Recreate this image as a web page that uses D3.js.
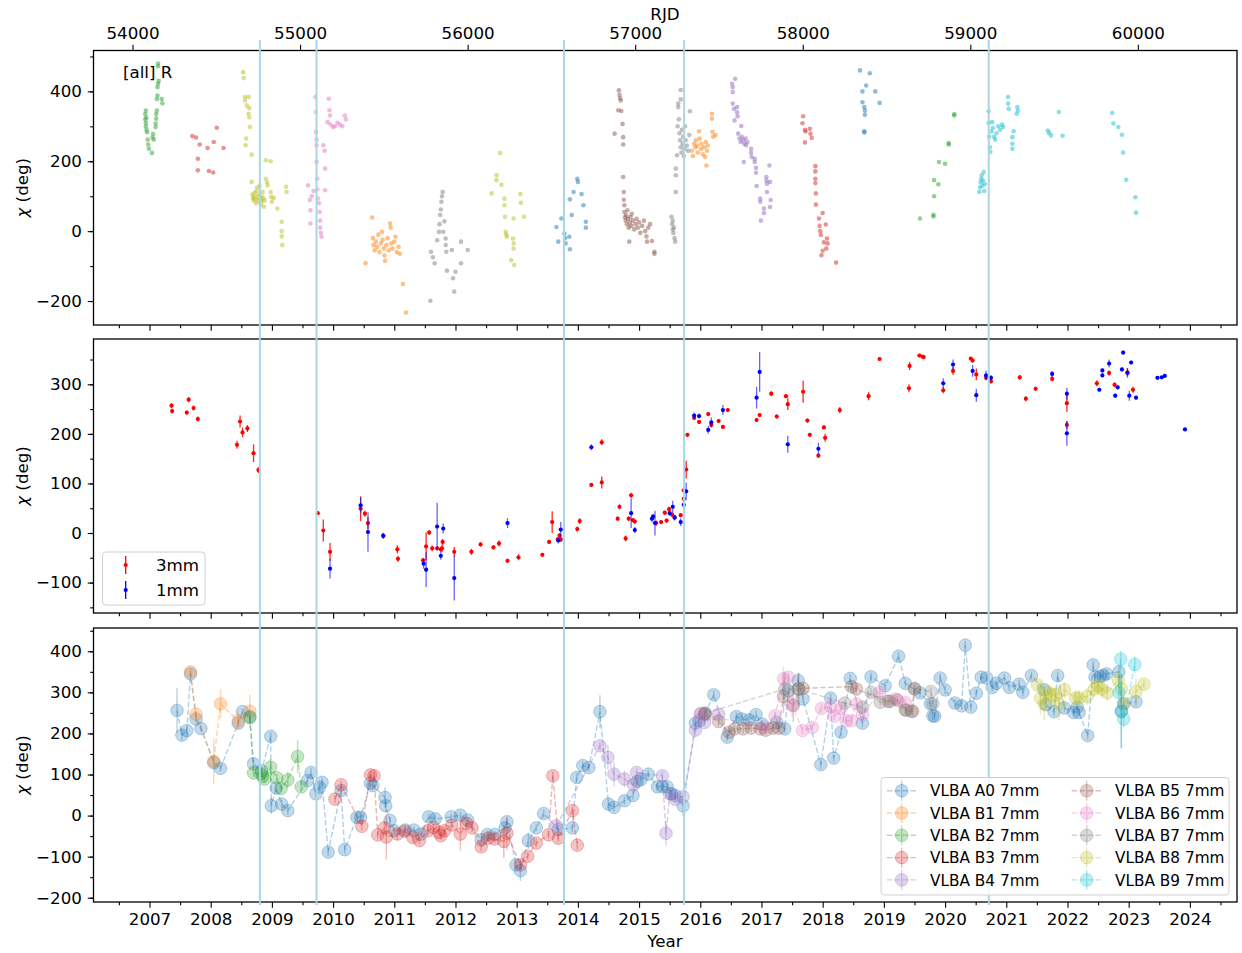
<!DOCTYPE html>
<html>
<head>
<meta charset="utf-8">
<script src="https://cdn.jsdelivr.net/npm/d3@7"></script>
<style>
  body { margin: 0; background: #fff; }
  text { font-family: "DejaVu Sans", sans-serif; }
</style>
</head>
<body>
<svg id="chart" width="1242" height="953"></svg>
<script>
// ---- data (decimal year, chi in deg[, error]) ----
const yearTicks = d3.range(2007, 2025);
const rjdTicks = d3.range(54000, 60001, 1000);
const markerRjd = [54760, 55098, 56575, 57292, 59110];

// top panel: [all] R, one array per observing season
const rGreen07 = [[2006.93,335],[2006.93,320],[2006.94,345],[2006.94,310],[2006.94,300],[2006.95,290],[2006.95,325],[2006.96,283],[2006.97,262],[2006.98,248],[2006.99,236],[2007.04,224],[2007.05,268],[2007.06,278],[2007.07,262],[2007.1,298],[2007.1,308],[2007.11,322],[2007.11,335],[2007.12,345],[2007.12,378],[2007.13,388],[2007.13,412],[2007.14,422],[2007.15,430],[2007.14,472],[2007.14,480],[2007.2,378],[2007.21,366]];
const rRed08 = [[2007.70,272],[2007.76,268],[2007.79,207],[2007.79,174],[2007.82,248],[2007.95,238],[2007.97,172],[2008.04,168],[2008.05,255],[2008.10,296],[2008.21,238]];
const rOlive09 = [[2008.53,455],[2008.54,438],[2008.56,384],[2008.56,374],[2008.62,384],[2008.59,360],[2008.63,352],[2008.62,336],[2008.63,326],[2008.64,298],[2008.58,265],[2008.57,246],[2008.67,219],[2008.67,141],[2008.68,105],[2008.69,95],[2008.70,88],[2008.71,100],[2008.72,110],[2008.73,92],[2008.74,80],[2008.75,115],[2008.76,125],[2008.77,98],[2008.78,86],[2008.79,105],[2008.80,130],[2008.81,90],[2008.82,75],[2008.83,100],[2008.84,85],[2008.85,112],[2008.86,95],[2008.87,70],[2008.88,88],[2008.90,203],[2008.90,150],[2008.92,140],[2008.93,131],[2008.98,200],[2008.98,112],[2008.99,98],[2009.0,84],[2009.03,95],[2009.09,65],[2009.16,27],[2009.16,0],[2009.16,-15],[2009.17,-40],[2009.23,127],[2009.24,112]];
const rPink10 = [[2009.59,131],[2009.62,89],[2009.63,60],[2009.63,22],[2009.65,100],[2009.68,115],[2009.71,384],[2009.72,341],[2009.72,284],[2009.73,262],[2009.73,246],[2009.73,198],[2009.74,150],[2009.74,120],[2009.75,93],[2009.77,80],[2009.78,55],[2009.79,30],[2009.79,10],[2009.80,-5],[2009.81,-16],[2009.84,246],[2009.86,230],[2009.87,179],[2009.87,117],[2009.93,379],[2009.94,346],[2009.95,331],[2009.91,312],[2009.96,305],[2010.0,298],[2010.03,300],[2010.07,310],[2010.11,305],[2010.15,300],[2010.19,331],[2010.21,320]];
const rOrange11 = [[2010.53,-92],[2010.64,39],[2010.65,-20],[2010.66,-40],[2010.68,-55],[2010.7,-30],[2010.72,-45],[2010.74,-10],[2010.76,-60],[2010.78,-35],[2010.8,-2],[2010.81,-25],[2010.83,-50],[2010.84,-70],[2010.85,-85],[2010.87,-40],[2010.89,-20],[2010.91,-55],[2010.93,22],[2010.94,10],[2010.95,-35],[2010.97,-50],[2011.0,-30],[2011.02,-16],[2011.04,-60],[2011.07,-45],[2011.09,-65],[2011.14,-151],[2011.19,-233]];
const rGray12 = [[2011.59,-199],[2011.60,-59],[2011.63,-75],[2011.66,-92],[2011.70,-26],[2011.73,-2],[2011.74,20],[2011.75,46],[2011.76,62],[2011.77,84],[2011.78,100],[2011.79,112],[2011.8,-2],[2011.82,28],[2011.84,-21],[2011.84,-40],[2011.85,-59],[2011.86,-113],[2011.94,-54],[2011.96,-135],[2011.98,-173],[2012.0,-116],[2012.09,-30],[2012.09,-92],[2012.2,-54]];
const rOlive13 = [[2012.59,108],[2012.67,160],[2012.67,146],[2012.73,224],[2012.75,133],[2012.80,93],[2012.80,74],[2012.81,41],[2012.82,-2],[2012.83,-10],[2012.84,-16],[2012.91,-83],[2012.94,-21],[2012.95,-35],[2012.95,-50],[2012.96,-97],[2012.95,36],[2013.06,106],[2013.07,81],[2013.12,41]];
const rBlue14 = [[2013.65,12],[2013.68,-30],[2013.73,36],[2013.78,-7],[2013.79,-20],[2013.80,-35],[2013.86,-16],[2013.87,-52],[2013.87,91],[2013.9,46],[2013.93,112],[2013.99,150],[2014.0,141],[2014.06,106],[2014.09,74],[2014.13,27],[2014.13,10]];
const rBrown15 = [[2014.60,279],[2014.66,346],[2014.67,403],[2014.68,390],[2014.69,380],[2014.70,374],[2014.71,344],[2014.73,307],[2014.74,269],[2014.74,248],[2014.74,155],[2014.75,112],[2014.75,90],[2014.76,74],[2014.76,55],[2014.77,40],[2014.78,30],[2014.79,45],[2014.8,20],[2014.81,60],[2014.82,35],[2014.83,10],[2014.84,-30],[2014.85,25],[2014.86,40],[2014.87,15],[2014.88,50],[2014.9,30],[2014.92,5],[2014.94,20],[2014.96,35],[2014.98,10],[2015.0,25],[2015.02,-5],[2015.05,15],[2015.08,30],[2015.1,0],[2015.12,-15],[2015.13,-30],[2015.15,10],[2015.18,20],[2015.21,-28],[2015.25,-59],[2015.25,-65]];
const rGray16 = [[2015.53,41],[2015.54,20],[2015.55,5],[2015.55,30],[2015.56,-5],[2015.57,10],[2015.58,-20],[2015.59,-30],[2015.6,112],[2015.6,160],[2015.6,179],[2015.62,217],[2015.64,355],[2015.64,365],[2015.68,404],[2015.68,377],[2015.63,300],[2015.65,320],[2015.66,280],[2015.67,260],[2015.68,240],[2015.69,225],[2015.7,290],[2015.71,250],[2015.72,270],[2015.73,215],[2015.74,235],[2015.75,300],[2015.76,260],[2015.78,245],[2015.8,230],[2015.82,275],[2015.83,343]];
const rOrange16 = [[2015.86,230],[2015.88,215],[2015.9,250],[2015.92,240],[2015.93,260],[2015.95,245],[2015.96,225],[2015.98,286],[2015.99,265],[2016.01,235],[2016.02,250],[2016.04,220],[2016.06,240],[2016.08,212],[2016.09,255],[2016.1,188],[2016.11,230],[2016.12,245],[2016.19,336],[2016.19,322],[2016.2,284],[2016.21,270],[2016.25,275]];
const rPurple17 = [[2016.52,422],[2016.53,412],[2016.57,436],[2016.53,398],[2016.53,365],[2016.55,350],[2016.6,355],[2016.6,340],[2016.61,329],[2016.56,317],[2016.67,301],[2016.62,279],[2016.64,265],[2016.66,255],[2016.68,270],[2016.7,260],[2016.72,250],[2016.74,265],[2016.75,246],[2016.77,255],[2016.71,198],[2016.83,236],[2016.83,224],[2016.84,212],[2016.89,207],[2016.89,198],[2016.91,181],[2016.91,167],[2016.92,129],[2016.98,93],[2016.98,84],[2016.99,30],[2017.04,65],[2017.04,52],[2017.08,155],[2017.08,145],[2017.09,136],[2017.09,112],[2017.13,188],[2017.14,141],[2017.15,89],[2017.14,69]];
const rRed18 = [[2017.68,329],[2017.67,309],[2017.71,290],[2017.72,285],[2017.79,293],[2017.8,279],[2017.71,254],[2017.82,267],[2017.88,186],[2017.88,171],[2017.88,150],[2017.88,138],[2017.89,108],[2017.89,76],[2017.94,36],[2017.95,15],[2017.96,0],[2017.97,-11],[2018.0,52],[2018.05,19],[2018.02,-32],[2018.0,-56],[2017.98,-69],[2018.07,-21],[2018.08,-35],[2018.06,-50],[2018.22,-90]];
const rBlue19 = [[2018.61,460],[2018.77,452],[2018.71,417],[2018.65,400],[2018.86,400],[2018.65,369],[2018.93,367],[2018.68,355],[2018.69,345],[2018.69,333],[2018.68,286],[2018.68,282]];
const rGreen20 = [[2019.59,36],[2019.81,42],[2019.81,47],[2019.82,100],[2019.82,146],[2019.89,134],[2019.9,198],[2020.0,193],[2020.06,248],[2020.06,252],[2020.15,331],[2020.15,335]];
const rCyan21 = [[2020.56,112],[2020.57,125],[2020.58,140],[2020.59,150],[2020.6,160],[2020.61,130],[2020.62,145],[2020.63,169],[2020.64,115],[2020.65,135],[2020.71,343],[2020.71,310],[2020.72,270],[2020.73,240],[2020.74,227],[2020.76,285],[2020.77,312],[2020.78,295],[2020.8,270],[2020.82,262],[2020.84,280],[2020.87,300],[2020.9,290],[2020.93,305],[2020.95,298],[2021.03,384],[2021.03,365],[2021.04,350],[2021.1,269],[2021.1,250],[2021.1,236],[2021.12,286],[2021.17,336],[2021.18,355],[2021.19,345],[2021.68,288],[2021.7,281],[2021.73,274],[2021.86,341],[2021.92,273],[2022.73,338],[2022.75,308],[2022.83,298],[2022.89,276],[2022.91,225],[2022.96,147],[2023.11,97],[2023.12,53]];
const rSegments = [rGreen07, rRed08, rOlive09, rPink10, rOrange11, rGray12, rOlive13, rBlue14, rBrown15, rGray16, rOrange16, rPurple17, rRed18, rBlue19, rGreen20, rCyan21];
const rColors = ["green","red","olive","pink","orange","gray","olive","blue","brown","gray","orange","purple","red","blue","green","cyan"];

// middle panel: 3mm and 1mm, [year, chi, err]
const mm3 = [[2007.36,257,5],[2007.37,246,5],[2007.61,243,4],[2007.64,269,5],[2007.72,252,5],[2007.79,230,5],[2008.43,178,8],[2008.48,225,12],[2008.52,203,10],[2008.6,211,7],[2008.70,161,18],[2008.78,127,6],[2009.75,40,3],[2009.84,5,22],[2009.95,-38,18],[2010.45,49,25],[2010.52,39,6],[2010.57,20,12],[2010.82,-5,5],[2011.05,-33,8],[2011.06,-52,6],[2011.47,-55,5],[2011.52,-27,28],[2011.57,1,5],[2011.62,-31,6],[2011.70,-31,4],[2011.76,-33,5],[2011.78,-31,8],[2011.79,-18,6],[2011.98,-38,10],[2012.26,-38,6],[2012.41,-23,4],[2012.62,-29,4],[2012.71,-21,6],[2012.85,-56,4],[2013.03,-49,6],[2013.42,-44,4],[2013.53,-18,4],[2013.58,22,22],[2013.67,-13,5],[2013.70,-5,5],[2013.72,-13,5],[2013.99,8,5],[2014.03,24,6],[2014.22,97,3],[2014.39,183,6],[2014.39,102,12],[2014.65,29,4],[2014.68,53,5],[2014.78,-11,6],[2014.83,29,5],[2014.87,76,5],[2014.90,26,4],[2014.93,23,4],[2015.28,20,5],[2015.36,22,4],[2015.42,41,4],[2015.45,25,4],[2015.49,48,5],[2015.54,37,4],[2015.58,32,4],[2015.68,36,4],[2015.73,69,4],[2015.73,86,4],[2015.77,128,18],[2015.79,198,4],[2015.9,232,4],[2015.98,224,4],[2016.13,240,4],[2016.18,218,4],[2016.30,226,4],[2016.37,214,4],[2016.45,248,4],[2016.92,228,4],[2016.97,238,4],[2017.16,281,5],[2017.25,235,4],[2017.4,276,4],[2017.43,260,12],[2017.68,285,22],[2017.75,227,4],[2017.79,198,4],[2017.93,156,4],[2018.02,213,4],[2018.04,192,8],[2018.28,248,6],[2018.75,276,8],[2018.93,351,4],[2019.41,292,8],[2019.42,337,8],[2019.58,358,3],[2019.63,356,3],[2019.65,355,3],[2019.97,288,6],[2020.13,327,8],[2020.42,352,3],[2020.45,348,4],[2020.51,320,12],[2020.67,313,4],[2020.75,306,4],[2021.22,314,5],[2021.32,271,5],[2021.48,291,4],[2021.75,311,5],[2021.99,262,18],[2021.99,218,8],[2022.48,302,6],[2022.68,323,5],[2022.77,299,5],[2022.98,324,8],[2023.07,289,6]];
const mm1 = [[2009.95,-72,20],[2010.45,56,15],[2010.57,2,40],[2010.82,-6,6],[2011.48,-62,10],[2011.52,-74,35],[2011.70,13,48],[2011.76,-46,8],[2011.80,9,10],[2011.98,-91,45],[2012.85,20,10],[2013.68,-15,6],[2013.72,7,15],[2014.22,173,6],[2014.87,40,30],[2014.93,6,6],[2015.21,29,8],[2015.23,33,6],[2015.26,20,25],[2015.5,40,5],[2015.55,53,12],[2015.58,31,6],[2015.68,22,8],[2015.73,57,8],[2015.77,84,18],[2015.9,237,6],[2015.98,236,5],[2016.13,208,8],[2016.18,223,10],[2016.37,248,10],[2016.92,273,22],[2016.97,325,40],[2017.43,179,17],[2017.93,170,12],[2019.97,302,10],[2020.13,340,10],[2020.45,327,12],[2020.51,278,13],[2020.67,318,10],[2020.75,313,6],[2021.75,321,6],[2021.99,281,12],[2021.99,201,25],[2022.52,289,4],[2022.57,328,4],[2022.57,318,4],[2022.68,342,8],[2022.78,277,4],[2022.82,294,4],[2022.89,330,4],[2022.91,364,4],[2022.98,323,10],[2023.01,277,10],[2023.04,344,4],[2023.12,273,4],[2023.47,313,3],[2023.54,314,3],[2023.59,317,3],[2023.92,209,3]];

// bottom panel: VLBA 7mm components, [year, chi, err]
const vlbaA0 = [[2007.45,256,55],[2007.53,196,12],[2007.61,207,10],[2007.67,345,8],[2007.76,235,10],[2007.84,212,8],[2008.05,129,10],[2008.16,115,8],[2008.45,225,10],[2008.52,253,8],[2008.64,241,8],[2008.70,126,10],[2008.83,109,10],[2008.98,193,10],[2008.99,24,20],[2009.07,67,10],[2009.16,28,10],[2009.26,12,10],[2009.58,85,10],[2009.64,105,10],[2009.72,53,10],[2009.78,69,10],[2009.82,81,10],[2009.92,-89,10],[2010.13,61,10],[2010.19,-83,10],[2010.39,-4,10],[2010.45,-4,10],[2010.61,79,10],[2010.65,73,10],[2010.85,44,25],[2010.86,24,15],[2010.93,-12,10],[2011.0,-37,8],[2011.18,-35,8],[2011.32,-35,8],[2011.44,-45,8],[2011.56,-3,8],[2011.67,-8,8],[2011.93,-3,8],[2012.08,1,8],[2012.2,-11,8],[2012.42,-59,8],[2012.52,-46,8],[2012.64,-46,8],[2012.81,-30,8],[2012.84,-15,8],[2012.99,-120,10],[2013.06,-134,25],[2013.19,-61,20],[2013.32,-30,8],[2013.44,5,10],[2013.68,-34,10],[2013.91,-30,10],[2013.98,93,10],[2014.08,122,10],[2014.18,117,10],[2014.36,253,40],[2014.5,28,10],[2014.59,20,10],[2014.76,36,10],[2014.9,49,10],[2014.97,83,10],[2015.03,88,10],[2015.15,101,10],[2015.3,70,10],[2015.38,71,10],[2015.46,70,10],[2015.53,53,10],[2015.59,49,10],[2015.72,24,25],[2015.92,225,10],[2015.98,231,10],[2016.08,249,10],[2016.22,294,10],[2016.44,191,10],[2016.59,241,10],[2016.68,235,10],[2016.8,233,15],[2016.91,246,10],[2017.01,223,10],[2017.25,227,10],[2017.38,211,10],[2017.44,304,10],[2017.6,329,10],[2017.68,284,10],[2017.97,124,10],[2018.13,286,10],[2018.18,140,10],[2018.3,203,10],[2018.45,334,10],[2018.65,225,10],[2018.79,338,10],[2019.02,316,10],[2019.24,388,10],[2019.35,322,10],[2019.59,299,10],[2019.76,272,10],[2019.8,243,10],[2019.83,242,10],[2019.92,335,10],[2020.0,306,10],[2020.16,274,10],[2020.27,267,10],[2020.33,415,10],[2020.42,264,10],[2020.51,298,10],[2020.59,337,10],[2020.68,335,10],[2020.77,312,10],[2020.84,322,10],[2020.97,335,10],[2021.05,312,10],[2021.21,320,10],[2021.27,300,10],[2021.41,341,10],[2021.62,306,10],[2021.65,270,10],[2021.78,253,10],[2021.84,341,10],[2021.95,262,10],[2022.1,251,10],[2022.16,264,10],[2022.19,251,10],[2022.33,195,10],[2022.42,367,10],[2022.45,337,10],[2022.53,339,10],[2022.58,341,10],[2022.64,345,10],[2022.84,350,15],[2022.88,254,90],[2022.92,272,10],[2023.12,277,10]];
const vlbaB1 = [[2007.67,350,8],[2007.76,247,12],[2008.05,132,55],[2008.16,272,35],[2008.45,231,20],[2008.64,254,40]];
const vlbaB2 = [[2008.64,238,12],[2008.70,104,10],[2008.82,101,10],[2008.85,95,10],[2008.88,89,10],[2008.98,118,20],[2009.08,92,10],[2009.15,66,10],[2009.26,87,20],[2009.42,144,40],[2009.48,70,10]];
const vlbaB3 = [[2010.03,40,10],[2010.13,75,10],[2010.47,-26,10],[2010.61,99,10],[2010.67,97,10],[2010.73,-47,10],[2010.84,-30,15],[2010.87,-52,55],[2011.05,-45,15],[2011.17,-38,10],[2011.3,-53,10],[2011.41,-61,10],[2011.55,-37,10],[2011.64,-29,10],[2011.73,-41,10],[2011.76,-49,10],[2011.82,-37,10],[2011.94,-23,10],[2012.08,-45,40],[2012.18,-19,10],[2012.27,-30,10],[2012.42,-76,10],[2012.53,-55,10],[2012.64,-57,10],[2012.79,-63,40],[2012.84,-43,40],[2013.06,-120,10],[2013.18,-99,10],[2013.32,-67,10],[2013.52,-47,10],[2013.59,97,10],[2013.68,-55,10],[2013.91,12,10],[2013.99,-72,10]];
const vlbaB4 = [[2013.65,-25,10],[2014.36,170,10],[2014.49,142,30],[2014.59,101,30],[2014.76,89,20],[2014.91,75,10],[2014.96,105,10],[2015.38,97,10],[2015.44,-43,30],[2015.5,53,15],[2015.59,40,10],[2015.72,46,10],[2015.92,208,10],[2016.01,249,10],[2016.07,227,10],[2016.3,247,10]];
const vlbaB5 = [[2016.07,247,10],[2016.3,229,10],[2016.47,203,10],[2016.56,211,10],[2016.7,211,10],[2016.83,213,10],[2016.98,211,10],[2017.07,208,10],[2017.19,213,10],[2017.28,213,10],[2017.36,290,40],[2017.52,268,40],[2017.61,308,40],[2017.68,310,10],[2018.47,314,10],[2018.55,308,10],[2019.07,278,10],[2019.22,281,10],[2019.36,257,10],[2019.47,254,10],[2019.5,308,10]];
const vlbaB6 = [[2016.0,247,10],[2017.04,215,10],[2017.22,243,10],[2017.36,333,30],[2017.44,337,10],[2017.5,270,30],[2017.67,207,10],[2017.83,215,10],[2017.98,261,10],[2018.13,265,20],[2018.19,242,10],[2018.3,261,10],[2018.38,231,10],[2018.47,231,10],[2018.55,272,10],[2018.65,246,10],[2018.93,300,10],[2019.19,284,10],[2019.35,276,10]];
const vlbaB7 = [[2016.08,249,10],[2017.38,308,40],[2017.6,308,40],[2018.36,274,10],[2018.65,264,10],[2018.79,300,10],[2018.94,276,10],[2019.1,278,10],[2019.35,257,10],[2019.45,254,10],[2019.5,310,10],[2019.77,302,10],[2019.8,272,10]];
const vlbaB8 = [[2021.51,318,10],[2021.56,286,40],[2021.62,272,40],[2021.68,300,20],[2021.74,294,20],[2021.8,294,20],[2021.86,272,40],[2021.95,306,20],[2022.13,286,20],[2022.19,286,20],[2022.32,290,20],[2022.44,308,20],[2022.5,316,20],[2022.56,308,20],[2022.65,299,20],[2022.83,330,20],[2022.88,308,20],[2022.92,272,20],[2023.12,302,30],[2023.25,320,10]];
const vlbaB9 = [[2022.84,300,40],[2022.87,381,20],[2022.88,254,90],[2022.92,235,20],[2023.1,368,20]];
const vlbaSeries = [vlbaA0, vlbaB1, vlbaB2, vlbaB3, vlbaB4, vlbaB5, vlbaB6, vlbaB7, vlbaB8, vlbaB9];
const vlbaNames = ["VLBA A0 7mm","VLBA B1 7mm","VLBA B2 7mm","VLBA B3 7mm","VLBA B4 7mm","VLBA B5 7mm","VLBA B6 7mm","VLBA B7 7mm","VLBA B8 7mm","VLBA B9 7mm"];

// ---- styling ----
const tab = {blue:"#1f77b4", orange:"#ff7f0e", green:"#2ca02c", red:"#d62728", purple:"#9467bd",
             brown:"#8c564b", pink:"#e377c2", gray:"#7f7f7f", olive:"#bcbd22", cyan:"#17becf"};
const tabOrder = ["blue","orange","green","red","purple","brown","pink","gray","olive","cyan"];
const FS = 16.7, LFS = 15.3, TICK = 5.8, MINOR = 3.3, PAD = 5.8;

const svg = d3.select("#chart");
const x = d3.scaleLinear().domain([2006.085, 2024.77]).range([93.5, 1237]);
const rjdToYear = r => 2000 + (r - 51544.5) / 365.25;

const panels = [
  {top: 50.5, bottom: 325, dom: [-268.6, 517], major: d3.range(-200, 401, 200), minor: d3.range(-200, 501, 100)},
  {top: 339, bottom: 613, dom: [-161.4, 391.4], major: d3.range(-100, 301, 100), minor: d3.range(-150, 351, 50)},
  {top: 628, bottom: 902, dom: [-210.4, 456.7], major: d3.range(-200, 401, 100), minor: d3.range(-200, 451, 50)}
];

function styleAxis(sel) {
  sel.select(".domain").remove();
  sel.selectAll("line").attr("stroke", "#000").attr("stroke-width", 1.1);
  sel.selectAll("text").attr("font-size", FS).attr("fill", "#000")
     .attr("font-family", "DejaVu Sans, sans-serif");
}

panels.forEach((p, i) => {
  p.y = d3.scaleLinear().domain(p.dom).range([p.bottom, p.top]);
  svg.append("clipPath").attr("id", "clip" + i).append("rect")
    .attr("x", x.range()[0]).attr("y", p.top)
    .attr("width", x.range()[1] - x.range()[0]).attr("height", p.bottom - p.top);
  p.g = svg.append("g").attr("clip-path", `url(#clip${i})`);
});

// top panel dots
const gTop = panels[0].g, yTop = panels[0].y;
rSegments.forEach((seg, k) => {
  gTop.append("g").selectAll("circle").data(seg).join("circle")
    .attr("cx", d => x(d[0])).attr("cy", d => yTop(d[1])).attr("r", 2.3)
    .attr("fill", tab[rColors[k]]).attr("fill-opacity", 0.5);
});

// middle panel error bars
function errSeries(g, y, data, color, barOpacity) {
  const s = g.append("g");
  s.selectAll("line").data(data).join("line")
    .attr("x1", d => x(d[0])).attr("x2", d => x(d[0]))
    .attr("y1", d => y(d[1] - d[2])).attr("y2", d => y(d[1] + d[2]))
    .attr("stroke", color).attr("stroke-width", 1.3).attr("stroke-opacity", barOpacity);
  s.selectAll("circle").data(data).join("circle")
    .attr("cx", d => x(d[0])).attr("cy", d => y(d[1])).attr("r", 2.1).attr("fill", color);
}
errSeries(panels[1].g, panels[1].y, mm3, "#ff0000", 0.85);
errSeries(panels[1].g, panels[1].y, mm1, "#0000ff", 0.6);

// bottom panel VLBA series
const gBot = panels[2].g, yBot = panels[2].y;
vlbaSeries.forEach((ser, k) => {
  const c = tab[tabOrder[k]];
  const s = gBot.append("g");
  s.append("path").datum(ser)
    .attr("d", d3.line().x(d => x(d[0])).y(d => yBot(d[1])))
    .attr("fill", "none").attr("stroke", c).attr("stroke-width", 1.4)
    .attr("stroke-dasharray", "5.5,2.4").attr("stroke-opacity", 0.35);
  s.append("g").selectAll("line").data(ser).join("line")
    .attr("x1", d => x(d[0])).attr("x2", d => x(d[0]))
    .attr("y1", d => yBot(d[1] - d[2])).attr("y2", d => yBot(d[1] + d[2]))
    .attr("stroke", c).attr("stroke-width", 1.5).attr("stroke-opacity", 0.3);
  s.append("g").selectAll("circle").data(ser).join("circle")
    .attr("cx", d => x(d[0])).attr("cy", d => yBot(d[1])).attr("r", 6.3)
    .attr("fill", c).attr("fill-opacity", 0.28)
    .attr("stroke", c).attr("stroke-opacity", 0.3).attr("stroke-width", 1);
});

// axes, spines
panels.forEach((p, i) => {
  const ax = svg.append("g");
  ax.append("g").attr("transform", `translate(0,${p.bottom})`)
    .call(d3.axisBottom(x).tickValues(yearTicks).tickSize(TICK).tickPadding(PAD)
      .tickFormat(i === 2 ? d3.format("d") : () => ""))
    .call(styleAxis);
  ax.append("g").attr("transform", `translate(0,${p.bottom})`)
    .call(d3.axisBottom(x).tickValues(d3.range(2006.5, 2024.6, 1)).tickSize(MINOR).tickFormat(() => ""))
    .call(styleAxis);
  ax.append("g").attr("transform", `translate(${x.range()[0]},0)`)
    .call(d3.axisLeft(p.y).tickValues(p.major).tickSize(TICK).tickPadding(PAD).tickFormat(d3.format("d")))
    .call(styleAxis);
  ax.append("g").attr("transform", `translate(${x.range()[0]},0)`)
    .call(d3.axisLeft(p.y).tickValues(p.minor).tickSize(MINOR).tickFormat(() => ""))
    .call(styleAxis);
  if (i === 0) {
    ax.append("g").attr("transform", `translate(0,${p.top})`)
      .call(d3.axisTop(x).tickValues(rjdTicks.map(rjdToYear)).tickSize(TICK).tickPadding(PAD)
        .tickFormat((d, j) => rjdTicks[j]))
      .call(styleAxis);
  }
  svg.append("rect").attr("x", x.range()[0]).attr("y", p.top)
    .attr("width", x.range()[1] - x.range()[0]).attr("height", p.bottom - p.top)
    .attr("fill", "none").attr("stroke", "#000").attr("stroke-width", 1.3);

  const yl = svg.append("text")
    .attr("transform", `translate(28,${(p.top + p.bottom) / 2}) rotate(-90)`)
    .attr("text-anchor", "middle").attr("font-size", FS);
  yl.append("tspan").attr("font-style", "italic").text("χ");
  yl.append("tspan").text(" (deg)");
});

svg.append("text").attr("x", 665).attr("y", 20).attr("text-anchor", "middle")
  .attr("font-size", FS).text("RJD");
svg.append("text").attr("x", 665).attr("y", 947).attr("text-anchor", "middle")
  .attr("font-size", FS).text("Year");
svg.append("text").attr("x", 123).attr("y", 78).attr("font-size", FS).text("[all] R");

// vertical marker lines across all panels
svg.append("g").selectAll("line").data(markerRjd).join("line")
  .attr("x1", d => x(rjdToYear(d))).attr("x2", d => x(rjdToYear(d)))
  .attr("y1", 40).attr("y2", 905)
  .attr("stroke", "#a9d6e5").attr("stroke-width", 2);

// middle legend
const lg1 = svg.append("g");
lg1.append("rect").attr("x", 102.5).attr("y", 552).attr("width", 102.5).attr("height", 53)
  .attr("rx", 3.3).attr("fill", "#fff").attr("fill-opacity", 0.8)
  .attr("stroke", "#d0d0d0").attr("stroke-width", 1);
[["3mm", "#ff0000", 565], ["1mm", "#0000ff", 590]].forEach(([t, c, cy]) => {
  lg1.append("line").attr("x1", 125.7).attr("x2", 125.7).attr("y1", cy - 9).attr("y2", cy + 9)
    .attr("stroke", c).attr("stroke-width", 1.3);
  lg1.append("circle").attr("cx", 125.7).attr("cy", cy).attr("r", 2.1).attr("fill", c);
  lg1.append("text").attr("x", 156).attr("y", cy + 6.3).attr("font-size", FS).text(t);
});

// bottom legend
const lg2 = svg.append("g");
lg2.append("rect").attr("x", 881).attr("y", 777.5).attr("width", 348).attr("height", 117.5)
  .attr("rx", 3.3).attr("fill", "#fff").attr("fill-opacity", 0.8)
  .attr("stroke", "#d0d0d0").attr("stroke-width", 1);
vlbaNames.forEach((name, k) => {
  const col = Math.floor(k / 5), row = k % 5;
  const mx = col === 0 ? 901.7 : 1086.7;
  const cy = 790.7 + row * 22.3;
  const c = tab[tabOrder[k]];
  lg2.append("line").attr("x1", mx - 15).attr("x2", mx + 15).attr("y1", cy).attr("y2", cy)
    .attr("stroke", c).attr("stroke-width", 1.4).attr("stroke-dasharray", "5.5,2.4").attr("stroke-opacity", 0.35);
  lg2.append("line").attr("x1", mx).attr("x2", mx).attr("y1", cy - 10).attr("y2", cy + 10)
    .attr("stroke", c).attr("stroke-width", 1.5).attr("stroke-opacity", 0.3);
  lg2.append("circle").attr("cx", mx).attr("cy", cy).attr("r", 6.3)
    .attr("fill", c).attr("fill-opacity", 0.28).attr("stroke", c).attr("stroke-opacity", 0.3);
  lg2.append("text").attr("x", mx + 28.3).attr("y", cy + 5.7).attr("font-size", LFS).text(name);
});
</script>
</body>
</html>
